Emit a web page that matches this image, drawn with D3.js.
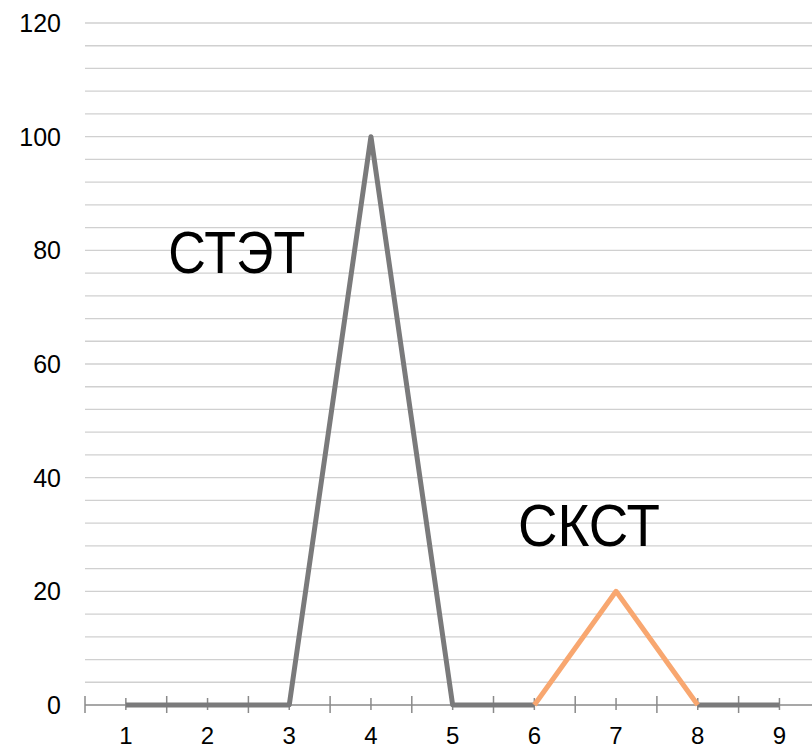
<!DOCTYPE html>
<html lang="ru">
  <head>
    <meta charset="utf-8" />
    <script src="https://d3js.org/d3.v7.min.js"></script>
    <style>
      body {
        margin: 0;
        background-color: #fff;
      }
      text {
        font-family: "Liberation Sans", Arial, sans-serif;
        fill: #000;
      }
    </style>
  </head>
  <body>
    <div id="chart"></div>

    <script>
      const width = 812;
      const height = 748;

      // données
      const categories = [1, 2, 3, 4, 5, 6, 7, 8, 9];
      const serieGrise = [0, 0, 0, 100, 0, 0, null, 0, 0];
      const serieOrange = [null, null, null, null, null, 0, 20, 0, null];
      const yTicks = [0, 20, 40, 60, 80, 100, 120];
      // position des étiquettes en unités de catégorie (début de bande + fraction)
      const annotations = [
        { text: "СТЭТ", cat: 2, frac: 0.02, val: 76, len: 137 },
        { text: "СКСТ", cat: 6, frac: 0.3, val: 28, len: 142 }
      ];

      const marginLeft = 85;
      const yHaut = 23;
      const yBas = 705;
      const bandW = 81.7;

      const svg = d3
        .select("#chart")
        .append("svg")
        .attr("width", width)
        .attr("height", height);

      const x = d3
        .scaleBand()
        .domain(categories)
        .range([marginLeft, marginLeft + bandW * categories.length])
        .paddingInner(0)
        .paddingOuter(0);

      const y = d3.scaleLinear().domain([0, 120]).range([yBas, yHaut]);

      const cx = (c) => x(c) + x.bandwidth() / 2;

      // lignes de grille (principales + secondaires tous les 4)
      svg
        .append("g")
        .selectAll("line")
        .data(d3.range(4, 121, 4))
        .join("line")
        .attr("x1", marginLeft)
        .attr("x2", width)
        .attr("y1", (d) => y(d))
        .attr("y2", (d) => y(d))
        .attr("stroke", "#d0d0d0")
        .attr("stroke-width", 1.3);

      // axe Y : étiquettes seules
      svg
        .append("g")
        .selectAll("text")
        .data(yTicks)
        .join("text")
        .attr("x", 61)
        .attr("y", (d) => y(d))
        .attr("dy", "0.36em")
        .attr("text-anchor", "end")
        .attr("font-size", 25)
        .text((d) => d);

      // axe X
      const axe = svg.append("g");
      axe
        .append("line")
        .attr("x1", marginLeft)
        .attr("x2", width)
        .attr("y1", yBas)
        .attr("y2", yBas)
        .attr("stroke", "#8a8a8a")
        .attr("stroke-width", 1.5);

      const bornes = categories.map((c) => x(c)).concat([x(9) + x.bandwidth()]);
      axe
        .selectAll("line.major")
        .data(bornes)
        .join("line")
        .attr("class", "major")
        .attr("x1", (d) => d)
        .attr("x2", (d) => d)
        .attr("y1", yBas - 9)
        .attr("y2", yBas + 8)
        .attr("stroke", "#8a8a8a")
        .attr("stroke-width", 1.5);

      axe
        .selectAll("line.minor")
        .data(categories)
        .join("line")
        .attr("class", "minor")
        .attr("x1", (d) => cx(d))
        .attr("x2", (d) => cx(d))
        .attr("y1", yBas - 7)
        .attr("y2", yBas + 5)
        .attr("stroke", "#8a8a8a")
        .attr("stroke-width", 1.5);

      axe
        .selectAll("text")
        .data(categories)
        .join("text")
        .attr("x", (d) => cx(d))
        .attr("y", 744)
        .attr("text-anchor", "middle")
        .attr("font-size", 24)
        .text((d) => d);

      // séries
      const line = d3
        .line()
        .defined((d) => d.v !== null)
        .x((d) => cx(d.c))
        .y((d) => y(d.v));

      const tracer = (vals, couleur) =>
        svg
          .append("path")
          .datum(categories.map((c, i) => ({ c: c, v: vals[i] })))
          .attr("fill", "none")
          .attr("stroke", couleur)
          .attr("stroke-width", 5)
          .attr("stroke-linejoin", "round")
          .attr("d", line);

      tracer(serieGrise, "#7a7a7b");
      tracer(serieOrange, "#f8a770");

      // annotations
      svg
        .append("g")
        .selectAll("text")
        .data(annotations)
        .join("text")
        .attr("x", (d) => x(d.cat) + d.frac * x.bandwidth())
        .attr("y", (d) => y(d.val))
        .attr("font-size", 60)
        .attr("textLength", (d) => d.len)
        .attr("lengthAdjust", "spacingAndGlyphs")
        .text((d) => d.text);
    </script>
  </body>
</html>
